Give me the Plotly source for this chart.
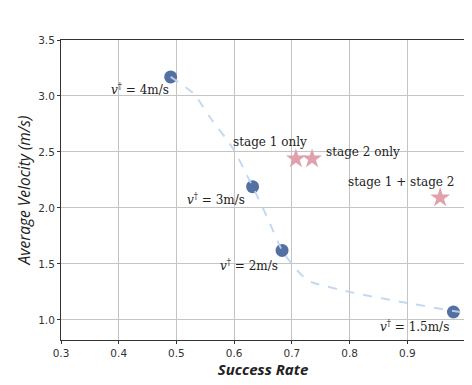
import plotly.graph_objects as go

success = [0.49, 0.632, 0.683, 0.98]
velocity = [3.17, 2.19, 1.62, 1.07]
speed_labels = ["4m/s", "3m/s", "2m/s", "1.5m/s"]

# dashed trend curve
trend_x = [0.49, 0.53, 0.558, 0.598, 0.632, 0.657, 0.683, 0.70, 0.715, 0.733, 0.80, 0.90, 0.98, 0.997]
trend_y = [3.17, 3.02, 2.81, 2.53, 2.19, 1.92, 1.62, 1.50, 1.41, 1.34, 1.25, 1.15, 1.08, 1.065]

stage_success = [0.707, 0.735, 0.957]
stage_velocity = [2.44, 2.44, 2.09]
stage_labels = ["stage 1 only", "stage 2 only", "stage 1 + stage 2"]

x_ticks = [0.3, 0.4, 0.5, 0.6, 0.7, 0.8, 0.9, 1.0]
y_ticks = [1.0, 1.5, 2.0, 2.5, 3.0, 3.5]

fig = go.Figure()
fig.add_trace(go.Scatter(x=success, y=velocity, mode="markers",
                         marker=dict(size=13, color="#5470a3"), showlegend=False))
fig.add_trace(go.Scatter(x=trend_x, y=trend_y, mode="lines",
                         line=dict(color="rgba(190,212,240,0.9)", width=2, dash="dash",
                                   shape="spline", smoothing=0.6), showlegend=False))
fig.add_trace(go.Scatter(x=stage_success, y=stage_velocity, mode="markers",
                         marker=dict(size=15, symbol="star", color="#e0a0ac",
                                     line=dict(width=0)), showlegend=False))

serif = dict(family="DejaVu Serif", size=12, color="#222")
lab_off = [(0, 12), (-6, 12), (-2, 15), (-2, 14)]
for x, y, s, (dx, dy) in zip(success, velocity, speed_labels, lab_off):
    fig.add_annotation(x=x, y=y, text="<i>v</i><sup>†</sup> = " + s, showarrow=False,
                       xanchor="right", yanchor="middle", xshift=dx, yshift=-dy, font=serif)

stage_pos = [(0.707, 2.44, -26, 17, "center"), (0.735, 2.44, 12, 7, "left"),
             (0.957, 2.09, 16, 16, "right")]
for s, (x, y, dx, dy, anc) in zip(stage_labels, stage_pos):
    fig.add_annotation(x=x, y=y, text=s, showarrow=False, xanchor=anc, yanchor="middle",
                       xshift=dx, yshift=dy, font=serif)

axis_common = dict(showgrid=True, gridcolor="#c4c4c4", gridwidth=1, showline=True,
                   linecolor="#333", linewidth=1, mirror=True, ticks="outside",
                   ticklen=3, tickcolor="#333", zeroline=False,
                   tickfont=dict(family="DejaVu Sans", size=10.5, color="#333"))
fig.update_xaxes(range=[0.3, 1.0], tickvals=x_ticks, ticktext=[f"{v:.1f}" for v in x_ticks],
                 title=dict(text="<i><b>Success Rate</b></i>", standoff=6,
                            font=dict(family="Open Sans", size=15, color="#222")),
                 **axis_common)
fig.update_yaxes(range=[0.82, 3.5], tickvals=y_ticks, ticktext=[f"{v:.1f}" for v in y_ticks],
                 title=dict(text="<i>Average Velocity (m/s)</i>", standoff=3,
                            font=dict(family="Open Sans", size=15.5, color="#222")),
                 **axis_common)
fig.update_layout(width=464, height=377, margin=dict(l=53, r=7, t=32, b=45),
                  plot_bgcolor="white", paper_bgcolor="white")
fig.write_html("out.html")
